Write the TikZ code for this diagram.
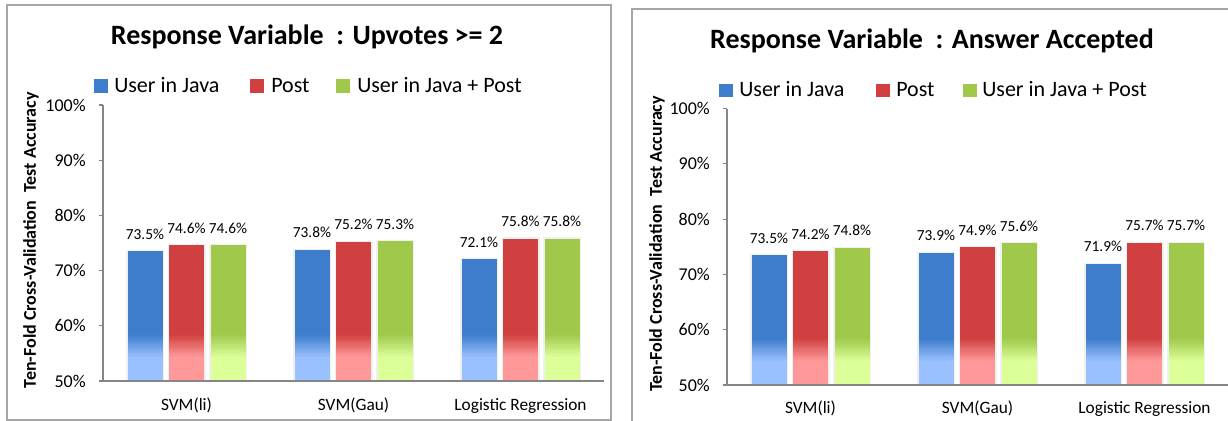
\documentclass[tikz,border=0pt]{standalone}
\usepackage{fontspec}
\setmainfont{Carlito}
\usepackage{tikz}

\definecolor{javablue}{HTML}{3D7DCB}
\definecolor{javabluelight}{HTML}{99C0FF}
\definecolor{postred}{HTML}{D04040}
\definecolor{postredlight}{HTML}{FF9999}
\definecolor{bothgreen}{HTML}{A0C84B}
\definecolor{bothgreenlight}{HTML}{DDFF99}
\definecolor{axisgray}{HTML}{868686}
\definecolor{framegray}{HTML}{A6A6A6}

\tikzset{
  charttitle/.style={font=\bfseries\fontsize{21}{24}\selectfont, anchor=base, inner sep=0pt},
  legendtext/.style={font=\fontsize{16.5}{19}\selectfont, anchor=base west, inner sep=0pt},
  ticklabel/.style={font=\fontsize{13.5}{16}\selectfont, anchor=east, inner sep=0pt},
  vallabel/.style={font=\fontsize{11.5}{14}\selectfont, anchor=base, inner sep=0pt},
  catlabel/.style={font=\fontsize{13}{15}\selectfont, anchor=base, inner sep=0pt},
  axistitle/.style={font=\bfseries\fontsize{13.5}{16}\selectfont, rotate=90, inner sep=0pt},
  axisline/.style={axisgray, line width=0.8pt},
}

% one bar: centre x, value in percent, colour
% (solid on top, fading to the light colour near the base)
\newcommand{\accbar}[3]{
  \fill[black!6] (#1-19,0) rectangle (#1+19,#2-50+0.2);
  \fill[#3] (#1-17.5,8.3) rectangle (#1+17.5,#2-50);
  \foreach \p in {0,5,...,95}
    \fill[#3!\p!#3light] (#1-17.5,4.2+0.041*\p) rectangle (#1+17.5,4.45+0.041*\p);
  \fill[#3light] (#1-17.5,0) rectangle (#1+17.5,4.25);
  \node[vallabel, yshift=9pt] at (#1,#2-50) {#2\%};
}

\begin{document}
\begin{tikzpicture}[x=0.75pt,y=-0.75pt]

	\clip (0,0) rectangle (1228,421);

	% panel frames
	\draw[framegray, line width=0.9pt] (7,5) rectangle (611,420);
	\draw[framegray, line width=0.9pt] (632,9) rectangle (1240,430);

	% ---- upvotes ----
	\begin{scope}[shift={(103,381)}, y=4.14pt]
	\node[charttitle] at (204,60.9) {Response Variable~ : Upvotes >= 2};

	\fill[javablue] (-9,52.2) rectangle (5,54.7);
	\node[legendtext] at (11,52.2) {User in Java};
	\fill[postred] (147,52.2) rectangle (161,54.7);
	\node[legendtext] at (168,52.2) {Post};
	\fill[bothgreen] (233,52.2) rectangle (247,54.7);
	\node[legendtext] at (254,52.2) {User in Java + Post};

	\node[axistitle] at (-72,25.5) {Ten-Fold Cross-Validation~ Test Accuracy};

	\accbar{42}{73.5}{javablue}
	\accbar{83.5}{74.6}{postred}
	\accbar{125}{74.6}{bothgreen}
	\accbar{209}{73.8}{javablue}
	\accbar{250.5}{75.2}{postred}
	\accbar{292}{75.3}{bothgreen}
	\accbar{376}{72.1}{javablue}
	\accbar{417.5}{75.8}{postred}
	\accbar{459}{75.8}{bothgreen}

	\draw[axisline] (0,0) -- (0,50);
	\draw[axisline] (-4,0) -- (501,0);
	\draw[axisline] (-4,10) -- (0,10);
	\draw[axisline] (-4,20) -- (0,20);
	\draw[axisline] (-4,30) -- (0,30);
	\draw[axisline] (-4,40) -- (0,40);
	\draw[axisline] (-4,50) -- (0,50);

	\node[ticklabel] at (-17,0) {50\%};
	\node[ticklabel] at (-17,10) {60\%};
	\node[ticklabel] at (-17,20) {70\%};
	\node[ticklabel] at (-17,30) {80\%};
	\node[ticklabel] at (-17,40) {90\%};
	\node[ticklabel] at (-17,50) {100\%};

	\node[catlabel] at (83.5,-5.4) {SVM(li)};
	\node[catlabel] at (250.5,-5.4) {SVM(Gau)};
	\node[catlabel] at (417.5,-5.4) {Logistic Regression};
	\end{scope}

	% ---- answer accepted ----
	\begin{scope}[shift={(727,385)}, y=4.1475pt]
	\node[charttitle] at (205,60.9) {Response Variable~ : Answer Accepted};

	\fill[javablue] (-8,52.1) rectangle (6,54.4);
	\node[legendtext] at (12,52.1) {User in Java};
	\fill[postred] (149,52.1) rectangle (163,54.4);
	\node[legendtext] at (169,52.1) {Post};
	\fill[bothgreen] (236,52.1) rectangle (250,54.4);
	\node[legendtext] at (255,52.1) {User in Java + Post};

	\node[axistitle] at (-70,25.5) {Ten-Fold Cross-Validation~ Test Accuracy};

	\accbar{42}{73.5}{javablue}
	\accbar{83.5}{74.2}{postred}
	\accbar{125}{74.8}{bothgreen}
	\accbar{209}{73.9}{javablue}
	\accbar{250.5}{74.9}{postred}
	\accbar{292}{75.6}{bothgreen}
	\accbar{376}{71.9}{javablue}
	\accbar{417.5}{75.7}{postred}
	\accbar{459}{75.7}{bothgreen}

	\draw[axisline] (0,0) -- (0,50);
	\draw[axisline] (-4,0) -- (501,0);
	\draw[axisline] (-4,10) -- (0,10);
	\draw[axisline] (-4,20) -- (0,20);
	\draw[axisline] (-4,30) -- (0,30);
	\draw[axisline] (-4,40) -- (0,40);
	\draw[axisline] (-4,50) -- (0,50);

	\node[ticklabel] at (-17,0) {50\%};
	\node[ticklabel] at (-17,10) {60\%};
	\node[ticklabel] at (-17,20) {70\%};
	\node[ticklabel] at (-17,30) {80\%};
	\node[ticklabel] at (-17,40) {90\%};
	\node[ticklabel] at (-17,50) {100\%};

	\node[catlabel] at (83.5,-5.1) {SVM(li)};
	\node[catlabel] at (250.5,-5.1) {SVM(Gau)};
	\node[catlabel] at (417.5,-5.1) {Logistic Regression};
	\end{scope}

\end{tikzpicture}
\end{document}
